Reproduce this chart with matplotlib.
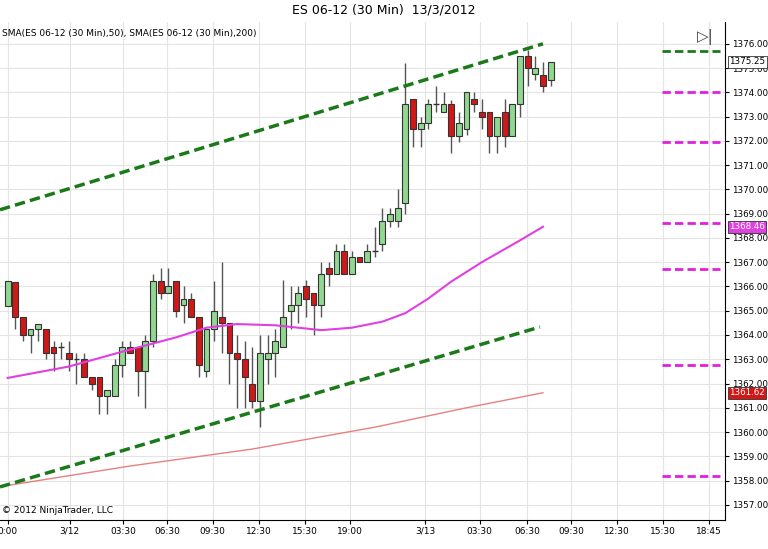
import numpy as np
import matplotlib.pyplot as plt
from matplotlib.patches import Rectangle

# 30-min candles, ES 06-12 (open, high, low, close)
opens = [1365.2, 1366.2, 1364.75, 1364.0, 1364.25, 1364.25, 1363.5, 1363.5, 1363.26, 1363.0,
         1363.0, 1362.25, 1362.25, 1361.5, 1361.5, 1362.75, 1363.5, 1363.5, 1362.5, 1363.76,
         1366.23, 1365.74, 1366.23, 1365.24, 1365.5, 1364.75, 1362.5, 1364.25, 1364.75, 1364.5,
         1363.26, 1363.0, 1362.0, 1361.26, 1363.0, 1363.26, 1363.5, 1365.0, 1365.25, 1366.0,
         1365.74, 1365.25, 1366.77, 1366.5, 1367.47, 1366.5, 1367.2, 1367.0, 1367.47, 1367.75,
         1368.7, 1368.7, 1369.45, 1373.73, 1372.5, 1372.75, 1373.5, 1373.2, 1373.5, 1372.2,
         1372.5, 1373.73, 1373.2, 1373.2, 1372.2, 1373.2, 1372.2, 1373.5, 1375.5, 1374.75,
         1374.7, 1374.5]
highs = [1366.23, 1366.2, 1364.75, 1364.25, 1364.46, 1364.25, 1363.76, 1363.7, 1363.76, 1363.26,
         1363.26, 1362.25, 1362.25, 1361.75, 1363.0, 1363.76, 1363.76, 1363.5, 1364.0, 1366.5,
         1366.77, 1366.77, 1366.23, 1366.0, 1365.74, 1364.75, 1364.25, 1366.23, 1367.0, 1364.5,
         1364.0, 1363.76, 1363.5, 1364.0, 1364.0, 1364.25, 1366.27, 1366.0, 1366.0, 1366.27,
         1365.74, 1367.0, 1367.0, 1367.75, 1367.75, 1367.47, 1367.2, 1367.75, 1368.46, 1369.24,
         1369.24, 1370.0, 1375.2, 1373.73, 1373.0, 1373.73, 1374.25, 1374.0, 1373.7, 1373.2,
         1374.0, 1374.0, 1373.73, 1373.2, 1373.0, 1373.73, 1373.5, 1375.5, 1375.75, 1375.5,
         1375.25, 1375.25]
lows = [1365.2, 1364.25, 1363.76, 1363.26, 1363.76, 1363.0, 1362.5, 1363.0, 1362.5, 1362.0,
        1362.25, 1361.75, 1360.75, 1360.75, 1361.5, 1362.25, 1363.26, 1361.5, 1361.0, 1363.5,
        1365.5, 1365.74, 1364.75, 1364.5, 1364.75, 1362.25, 1362.25, 1363.76, 1363.26, 1362.0,
        1361.0, 1361.0, 1361.0, 1360.2, 1362.0, 1362.25, 1363.5, 1364.25, 1364.5, 1364.75,
        1364.0, 1364.75, 1366.0, 1366.5, 1366.5, 1366.5, 1367.0, 1367.0, 1367.2, 1367.47,
        1368.46, 1368.46, 1369.0, 1371.75, 1371.75, 1372.5, 1373.2, 1373.2, 1371.5, 1371.96,
        1372.25, 1373.2, 1372.5, 1371.5, 1371.5, 1371.75, 1372.2, 1373.0, 1374.25, 1374.5,
        1374.0, 1374.25]
closes = [1366.23, 1364.75, 1364.0, 1364.25, 1364.46, 1363.26, 1363.26, 1363.5, 1363.0, 1363.0,
          1362.25, 1362.0, 1361.5, 1361.75, 1362.75, 1363.5, 1363.26, 1362.5, 1363.76, 1366.23,
          1365.74, 1366.0, 1365.0, 1365.5, 1364.75, 1362.75, 1364.25, 1365.0, 1364.5, 1363.26,
          1363.0, 1362.25, 1361.26, 1363.26, 1363.26, 1363.76, 1364.75, 1365.25, 1365.74, 1365.5,
          1365.25, 1366.5, 1366.5, 1367.47, 1366.5, 1367.2, 1367.0, 1367.47, 1367.47, 1368.7,
          1369.0, 1369.24, 1373.5, 1372.5, 1372.75, 1373.5, 1373.5, 1373.5, 1372.2, 1372.75,
          1374.0, 1373.5, 1373.0, 1372.2, 1373.0, 1372.2, 1373.5, 1375.5, 1375.0, 1375.0,
          1374.25, 1375.25]

# moving averages, read at sample bars
sma50_x = [0, 8, 16, 22, 26, 30, 35, 41, 45, 49, 52, 55, 58, 62, 67, 70]
sma50_y = [1362.23, 1362.7, 1363.4, 1363.9, 1364.3, 1364.45, 1364.4, 1364.2, 1364.3, 1364.55,
           1364.9, 1365.5, 1366.2, 1367.0, 1367.9, 1368.46]
sma200_x = [0, 16, 32, 48, 60, 70]
sma200_y = [1357.8, 1358.6, 1359.3, 1360.2, 1361.0, 1361.62]

# trend channel (bar index, price)
upper_line = ([-1, 70], [1369.16, 1376.0])
lower_line = ([-1, 69.6], [1357.74, 1364.33])

# horizontal levels drawn on the right
magenta_levels = [1374.02, 1371.96, 1368.62, 1366.73, 1362.77, 1358.19]
green_level = 1375.7

tick_pos = [0, 8.1, 15.1, 20.9, 26.8, 32.9, 38.9, 44.8, 54.6, 61.7, 67.9, 73.7, 79.7, 85.7, 91.7]
tick_lab = ["0:00", "3/12", "03:30", "06:30", "09:30", "12:30", "15:30", "19:00", "3/13",
            "03:30", "06:30", "09:30", "12:30", "15:30", "18:45"]

fig = plt.figure(figsize=(7.68, 5.49), dpi=100)
ax = fig.add_axes([0.0, 0.053, 0.944, 0.907])
ax.set_xlim(-1, 93.8)
ax.set_ylim(1356.38, 1376.9)

for i in range(len(opens)):
    o, h, l, c = opens[i], highs[i], lows[i], closes[i]
    ax.vlines(i, l, h, color="#555555", lw=1, zorder=2)
    col = "#90d890" if c >= o else "#d01818"
    bot, hgt = min(o, c), abs(c - o)
    if hgt < 0.02:
        ax.hlines(o, i - 0.38, i + 0.38, color="#333333", lw=1, zorder=3)
    else:
        ax.add_patch(Rectangle((i - 0.38, bot), 0.76, hgt, facecolor=col,
                               edgecolor="#333333", lw=0.8, zorder=3))

ax.plot(sma50_x, sma50_y, color="#e040e0", lw=1.5, zorder=4)
ax.plot(sma200_x, sma200_y, color="#e88080", lw=1.0, zorder=4)
ax.plot(*upper_line, color="#1a7a1a", lw=2.5, ls=(0, (3, 1.5)), zorder=5)
ax.plot(*lower_line, color="#1a7a1a", lw=2.5, ls=(0, (3, 1.5)), zorder=5)
for lv in magenta_levels:
    ax.plot([85.6, 93.2], [lv, lv], color="#e020e0", lw=2, ls=(0, (3, 1.5)))
ax.plot([85.6, 93.2], [green_level, green_level], color="#1a7a1a", lw=2, ls=(0, (3, 1.5)))

ax.set_xticks(tick_pos)
ax.set_xticklabels(tick_lab, fontsize=6.5)
yt = np.arange(1357, 1377, 1)
ax.set_yticks(yt)
ax.set_yticklabels([f"{v:.2f}" for v in yt], fontsize=6.3)
ax.yaxis.tick_right()
ax.tick_params(length=3, pad=2)
ax.grid(True, color="#e4e4e4", lw=0.8)
ax.set_axisbelow(True)
for s in ["top", "left"]:
    ax.spines[s].set_visible(False)

for val, fc, tc in [(1375.25, "white", "black"), (1368.46, "#e040e0", "white"),
                    (1361.62, "#d01818", "white")]:
    ax.annotate(f"{val:.2f}", xy=(1.0, val), xycoords=("axes fraction", "data"),
                xytext=(3, 0), textcoords="offset points", va="center", ha="left",
                fontsize=6.3, color=tc, zorder=10,
                bbox=dict(boxstyle="square,pad=0.15", fc=fc, ec="#333333", lw=0.6))

fig.text(0.5, 0.982, "ES 06-12 (30 Min)  13/3/2012", ha="center", va="center", fontsize=9)
ax.text(0.003, 0.985, "SMA(ES 06-12 (30 Min),50), SMA(ES 06-12 (30 Min),200)",
        transform=ax.transAxes, fontsize=6.5, va="top")
ax.text(0.003, 0.01, "\u00a9 2012 NinjaTrader, LLC", transform=ax.transAxes, fontsize=6.5,
        va="bottom")
ax.text(0.985, 0.985, "\u25b7|", transform=ax.transAxes, fontsize=11, va="top", ha="right",
        color="#444444")

fig.savefig("out.png", dpi=100)
